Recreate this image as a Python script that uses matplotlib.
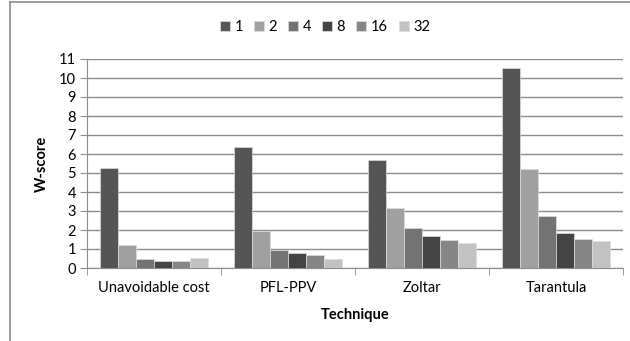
import numpy as np
import matplotlib.pyplot as plt
from matplotlib.lines import Line2D

plt.rcParams['font.family'] = ['Lato', 'DejaVu Sans']

techniques = ['Unavoidable cost', 'PFL-PPV', 'Zoltar', 'Tarantula']
series = ['1', '2', '4', '8', '16', '32']
values = {
	'1': [5.25, 6.38, 5.71, 10.53],
	'2': [1.21, 1.96, 3.18, 5.2],
	'4': [0.45, 0.95, 2.1, 2.72],
	'8': [0.35, 0.78, 1.69, 1.85],
	'16': [0.38, 0.7, 1.48, 1.54],
	'32': [0.51, 0.47, 1.31, 1.4],
}
colors = ['#555555', '#a0a0a0', '#737373', '#444444', '#868686', '#c2c2c2']

fig = plt.figure(figsize=(6.3, 3.41), dpi=100)
ax = fig.add_axes([87 / 630, 1 - 268 / 341, (623 - 87) / 630, (268 - 59) / 341])

x = np.arange(len(techniques))
w = 0.8 / len(series)
for i, s in enumerate(series):
	ax.bar(x - 0.4 + w * (i + 0.5), values[s], w, color=colors[i],
		edgecolor='#dddddd', linewidth=0.5, label=s, zorder=3)

ax.set_xlim(-0.5, len(techniques) - 0.5)
ax.set_ylim(0, 11)
ax.set_yticks(range(0, 12))
ax.yaxis.grid(True, color='#8c8c8c', linewidth=1.0, zorder=0)
ax.set_xticks(x)
ax.set_xticklabels(techniques, fontsize=10.5)
ax.set_xticks(np.arange(-0.5, len(techniques)), minor=True)
ax.tick_params(axis='x', which='major', length=0, pad=9)
ax.tick_params(axis='x', which='minor', length=5, color='#8c8c8c')
ax.tick_params(axis='y', length=5, color='#8c8c8c', labelsize=10.5, pad=3)
for sp in ['top', 'right']:
	ax.spines[sp].set_visible(False)
for sp in ['left', 'bottom']:
	ax.spines[sp].set_color('#8c8c8c')

ax.set_xlabel('Technique', fontweight='bold', fontsize=10.5, labelpad=10)
ax.set_ylabel('W-score', fontweight='bold', fontsize=10.5, labelpad=7)

fig.legend(loc='center', bbox_to_anchor=(325 / 630, 1 - 27 / 341), ncol=6,
	frameon=False, fontsize=10.5, handlelength=0.7, handleheight=0.7,
	handletextpad=0.3, columnspacing=0.75)

# chart area border
fig.add_artist(Line2D([10 / 630, 10 / 630], [0, 1 - 2 / 341], color='#8c8c8c', lw=1.2))
fig.add_artist(Line2D([10 / 630, 1], [1 - 2 / 341, 1 - 2 / 341], color='#8c8c8c', lw=1.2))

fig.savefig('out.png', dpi=100)
